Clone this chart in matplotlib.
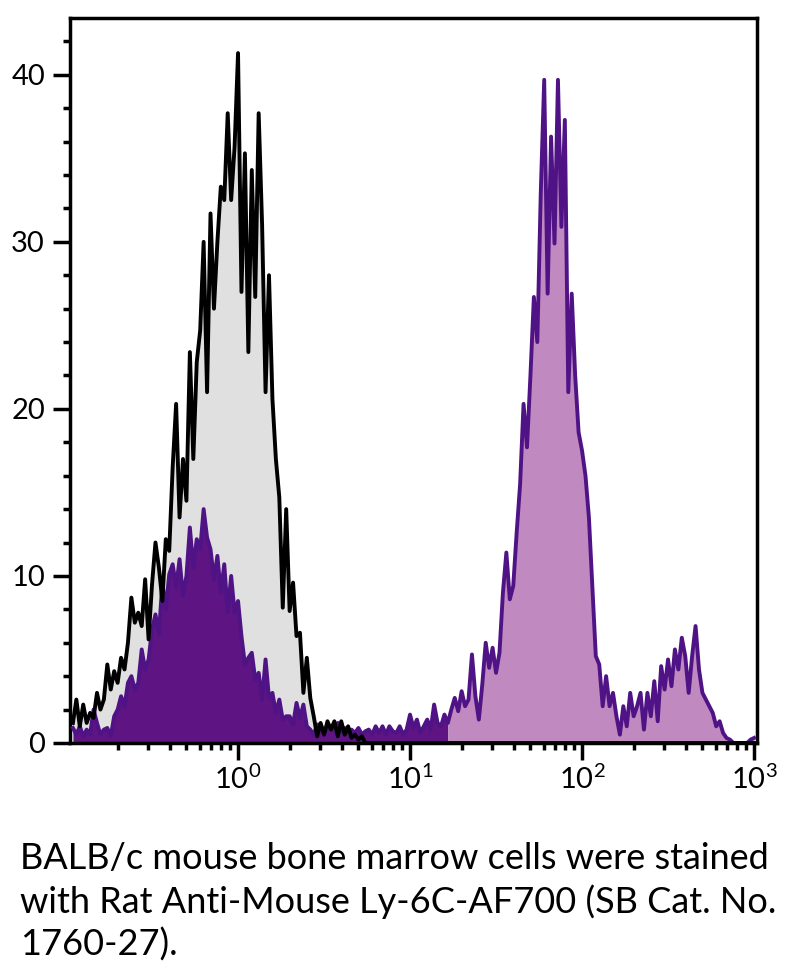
import numpy as np
import matplotlib.pyplot as plt
from matplotlib.ticker import MultipleLocator, LogLocator, NullFormatter

plt.rcParams['font.family'] = ['Lato', 'DejaVu Sans']
plt.rcParams['mathtext.fontset'] = 'custom'
plt.rcParams['mathtext.rm'] = 'Lato'
plt.rcParams['mathtext.default'] = 'regular'

# canales en log10 (paso 0.02 decadas, de 10^-0.96 a 10^3)
canal_log = np.round(np.arange(-0.96, 3.001, 0.02), 2)

# control (linea negra, relleno gris)
control = [
    1.2, 2.6, 1.0, 2.3, 1.2, 1.8, 1.5, 3.0, 2.0, 2.6,
    4.7, 3.2, 4.3, 3.6, 5.1, 4.4, 6.0, 8.7, 7.2, 7.8,
    7.0, 9.8, 6.2, 9.5, 12.0, 10.5, 8.5, 12.2, 11.5, 16.5,
    20.3, 13.5, 17.0, 14.5, 23.4, 17.0, 22.8, 24.7, 30.0, 21.0,
    31.7, 26.0, 30.0, 33.3, 32.5, 37.7, 32.5, 35.7, 41.3, 27.0,
    35.3, 23.4, 34.3, 26.7, 37.7, 31.0, 21.0, 28.0, 20.6, 17.0,
    14.7, 8.1, 14.0, 7.9, 9.6, 6.4, 6.6, 3.0, 5.1, 2.7,
    1.6, 0.4, 1.2, 0.5, 1.3, 0.8, 1.3, 0.4, 1.3, 0.5,
    1.0, 0.3, 0.5, 0.2, 0.4, 0.0, 0.0, 0.0, 0.0, 0.0,
    0.0, 0.0, 0.0, 0.0, 0.0, 0.0, 0.0, 0.0, 0.0, 0.0,
    0.0, 0.0, 0.0, 0.0, 0.0, 0.0, 0.0, 0.0, 0.0, 0.0,
    0.0, 0.0, 0.0, 0.0, 0.0, 0.0, 0.0, 0.0, 0.0, 0.0,
    0.0, 0.0, 0.0, 0.0, 0.0, 0.0, 0.0, 0.0, 0.0, 0.0,
    0.0, 0.0, 0.0, 0.0, 0.0, 0.0, 0.0, 0.0, 0.0, 0.0,
    0.0, 0.0, 0.0, 0.0, 0.0, 0.0, 0.0, 0.0, 0.0, 0.0,
    0.0, 0.0, 0.0, 0.0, 0.0, 0.0, 0.0, 0.0, 0.0, 0.0,
    0.0, 0.0, 0.0, 0.0, 0.0, 0.0, 0.0, 0.0, 0.0, 0.0,
    0.0, 0.0, 0.0, 0.0, 0.0, 0.0, 0.0, 0.0, 0.0, 0.0,
    0.0, 0.0, 0.0, 0.0, 0.0, 0.0, 0.0, 0.0, 0.0, 0.0,
    0.0, 0.0, 0.0, 0.0, 0.0, 0.0, 0.0, 0.0, 0.0,
]

# muestra tenida con Ly-6C-AF700 (linea morada)
tenido = [
    0.9, 0.5, 1.0, 0.4, 0.8, 0.5, 2.0, 1.2, 0.5, 0.8,
    0.9, 0.4, 1.6, 2.0, 2.8, 2.2, 3.6, 4.0, 3.2, 3.6,
    5.6, 4.4, 5.0, 6.8, 7.7, 6.5, 9.6, 8.0, 10.1, 10.7,
    9.3, 11.0, 8.8, 10.0, 12.9, 10.5, 12.2, 11.6, 14.0, 12.3,
    11.6, 9.8, 11.2, 9.0, 10.7, 7.8, 10.0, 7.8, 8.5, 6.4,
    4.7, 5.1, 5.4, 3.8, 4.2, 2.6, 5.0, 2.7, 3.0, 1.8,
    2.6, 1.4, 1.6, 1.6, 1.1, 2.4, 1.5, 2.3, 1.0, 0.8,
    0.5, 1.1, 1.1, 0.6, 0.9, 1.0, 0.7, 1.2, 0.7, 0.9,
    0.5, 0.8, 0.6, 0.9, 0.5, 0.7, 0.8, 0.5, 1.0, 0.6,
    1.0, 0.5, 1.0, 0.7, 0.6, 1.0, 0.5, 0.8, 1.7, 0.9,
    1.4, 0.6, 1.0, 1.4, 0.8, 2.3, 1.2, 1.0, 1.7, 1.2,
    2.0, 2.7, 1.9, 3.1, 2.2, 2.6, 5.3, 2.8, 1.4, 3.5,
    6.0, 4.5, 5.7, 4.2, 5.4, 9.0, 11.4, 8.6, 9.4, 12.6,
    15.5, 20.3, 17.7, 22.0, 26.7, 24.0, 32.9, 39.7, 26.9, 36.3,
    29.9, 39.7, 30.9, 37.3, 21.0, 26.9, 22.0, 18.6, 17.5, 16.0,
    13.5, 9.3, 5.2, 4.7, 2.2, 4.0, 2.2, 3.0, 1.6, 0.5,
    2.2, 1.0, 3.0, 1.6, 2.2, 3.0, 0.8, 3.0, 1.6, 3.7,
    1.3, 4.6, 3.2, 5.0, 3.4, 5.6, 4.4, 6.3, 5.2, 3.0,
    5.2, 7.0, 4.4, 3.0, 2.6, 2.2, 1.8, 1.0, 1.3, 0.6,
    0.3, 0.2, 0.0, 0.0, 0.0, 0.0, 0.0, 0.2, 0.3,
]

y_ticks = [0, 10, 20, 30, 40]
x_ticks = [1, 10, 100, 1000]
x_labels = ['$10^{0}$', '$10^{1}$', '$10^{2}$', '$10^{3}$']

leyenda = ['BALB/c mouse bone marrow cells were stained',
           'with Rat Anti-Mouse Ly-6C-AF700 (SB Cat. No.',
           '1760-27).']

x = 10 ** canal_log
control = np.array(control)
tenido = np.array(tenido)

fig = plt.figure(figsize=(7.89, 9.73), dpi=100)
ax = fig.add_axes([0.0887, 0.2364, 0.8707, 0.7451])

ax.fill_between(x, 0, control, color='#e0e0e0', lw=0, zorder=1)
ax.fill_between(x, 0, tenido, where=canal_log <= 1.225, color='#5e1482', lw=0, zorder=2)
ax.fill_between(x, 0, tenido, where=canal_log >= 1.215, color='#c089c0', lw=0, zorder=2)
ax.plot(x, tenido, color='#4f1386', lw=2.8, zorder=3)
ax.plot(x, control, color='black', lw=2.8, zorder=4)

ax.set_xscale('log')
ax.set_xlim(10 ** -0.977, 10 ** 3.017)
ax.set_ylim(0, 43.4)

ax.set_yticks(y_ticks)
ax.yaxis.set_minor_locator(MultipleLocator(2))
ax.set_xticks(x_ticks)
ax.set_xticklabels(x_labels)
ax.xaxis.set_minor_locator(LogLocator(base=10, subs=np.arange(2, 10)))
ax.xaxis.set_minor_formatter(NullFormatter())

ax.tick_params(which='major', length=12, width=2.5, labelsize=21, direction='out')
ax.tick_params(axis='y', which='major', pad=6)
ax.tick_params(axis='x', which='major', pad=4)
ax.tick_params(which='minor', length=5, width=2.5, direction='out')
for s in ax.spines.values():
    s.set_linewidth(2.5)

for linea, yb in zip(leyenda, [0.1069, 0.0617, 0.0175]):
    fig.text(0.0254, yb, linea, fontsize=26, va='baseline', ha='left')

fig.savefig('out.png', dpi=100)
